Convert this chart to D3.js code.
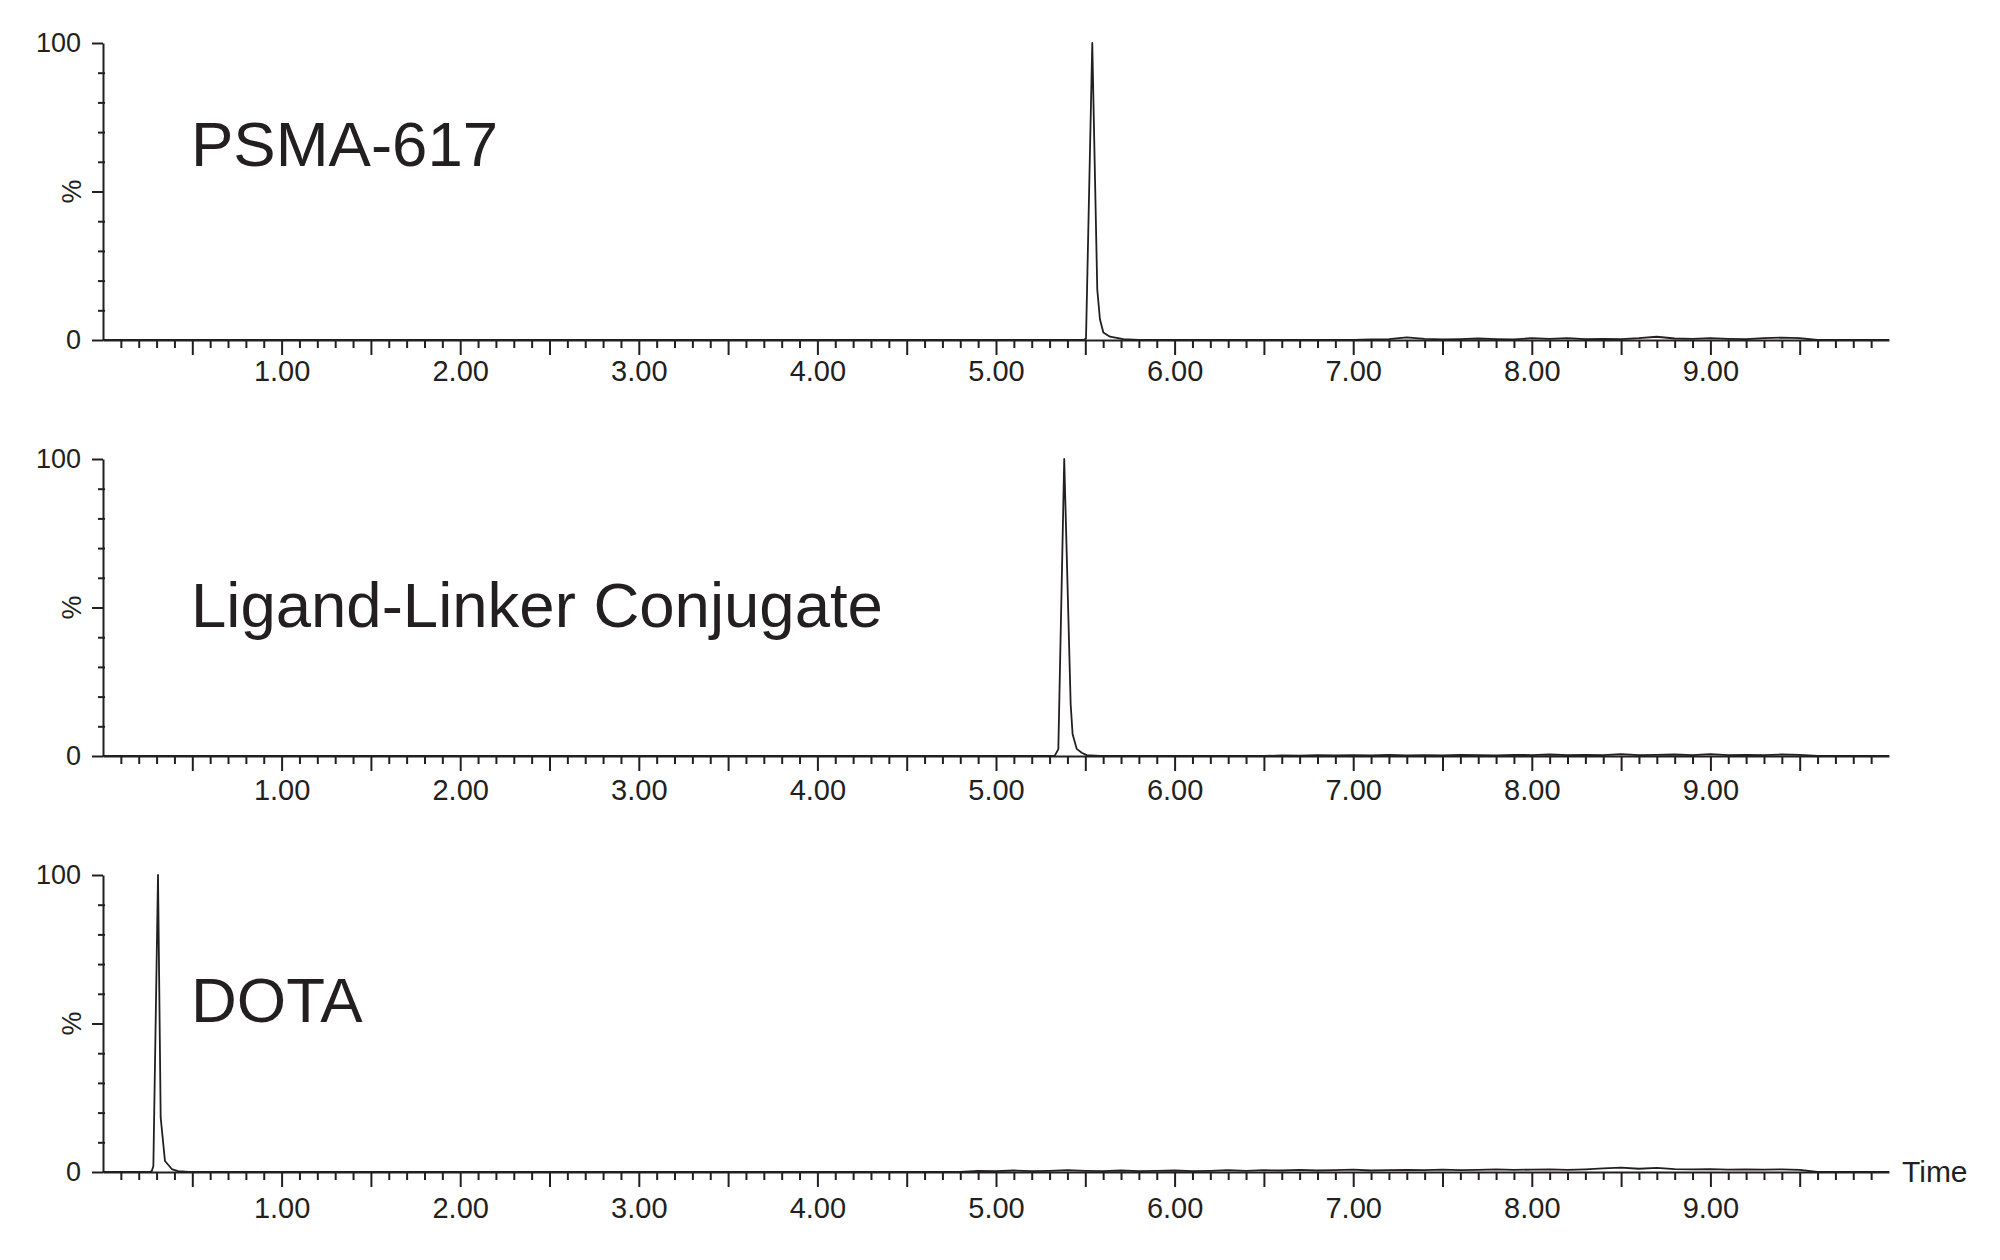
<!DOCTYPE html>
<html>
<head>
<meta charset="utf-8">
<script src="https://cdn.jsdelivr.net/npm/d3@7"></script>
<style>
  body { margin: 0; background: #fff; }
  svg { display: block; font-family: "Liberation Sans", Arial, sans-serif; }
</style>
</head>
<body>
<div id="chart"></div>
<script>
// sample names, one panel each
var sampleNames = [ 'PSMA-617', 'Ligand-Linker Conjugate', 'DOTA' ];

// peak points [time (min), intensity (%)]
var psmaPeak = [ [ 5.49, 0 ], [ 5.504, 0.5 ], [ 5.539, 100 ], [ 5.567, 17 ], [ 5.582, 7 ],
  [ 5.601, 2.5 ], [ 5.638, 1.1 ], [ 5.713, 0.3 ], [ 5.80, 0 ] ];
var ligandPeak = [ [ 5.32, 0 ], [ 5.330, 0.2 ], [ 5.349, 2.3 ], [ 5.382, 100 ], [ 5.418, 17.5 ],
  [ 5.429, 7.3 ], [ 5.452, 2.4 ], [ 5.480, 1.1 ], [ 5.508, 0.3 ], [ 5.58, 0 ] ];
var dotaPeak = [ [ 0.26, 0 ], [ 0.273, 0.3 ], [ 0.282, 2 ], [ 0.308, 100 ], [ 0.323, 18.3 ],
  [ 0.347, 3.7 ], [ 0.385, 1 ], [ 0.42, 0.3 ], [ 0.48, 0 ] ];

// baseline noise, one value every 0.1 min from the start time
var psmaNoiseStart = 7.0;
var psmaNoise = [ 0, 0.2, 0.3, 0.9, 0.4, 0.2, 0.3, 0.5, 0.3, 0.2, 0.6, 0.4, 0.6, 0.3,
  0.4, 0.3, 0.6, 1.1, 0.5, 0.4, 0.6, 0.4, 0.3, 0.6, 0.8, 0.6, 0 ];
var ligandNoiseStart = 6.5;
var ligandNoise = [ 0, 0.2, 0.1, 0.3, 0.2, 0.3, 0.2, 0.4, 0.2, 0.3, 0.2, 0.4, 0.3, 0.2,
  0.4, 0.3, 0.5, 0.3, 0.4, 0.3, 0.6, 0.3, 0.4, 0.5, 0.3, 0.6, 0.3, 0.4, 0.3, 0.5, 0.4, 0 ];
var dotaNoiseStart = 4.8;
var dotaNoise = [ 0, 0.4, 0.3, 0.5, 0.3, 0.4, 0.6, 0.4, 0.3, 0.5, 0.3, 0.4, 0.5, 0.3,
  0.4, 0.6, 0.4, 0.6, 0.5, 0.7, 0.5, 0.6, 0.8, 0.5, 0.6, 0.7, 0.6, 0.8, 0.6, 0.7, 0.9,
  0.7, 0.8, 0.9, 0.7, 0.9, 1.2, 1.5, 1.1, 1.4, 1.0, 0.9, 1.0, 0.8, 0.9, 0.8, 0.9, 0.7, 0 ];

var xMajorTicks = [ 0.5, 1, 1.5, 2, 2.5, 3, 3.5, 4, 4.5, 5, 5.5, 6, 6.5, 7, 7.5, 8, 8.5, 9, 9.5 ];
var xLabelTicks = [ 1, 2, 3, 4, 5, 6, 7, 8, 9 ];
var yMajorTicks = [ 0, 50, 100 ];
var yMinorTicks = [ 10, 20, 30, 40, 60, 70, 80, 90 ];
var yLabelTicks = [ 0, 100 ];

var width = 2000, height = 1260;
var ink = '#231f20';
var axisLeftX = 103, axisRightX = 1889;
var panelTops = [ 43, 459, 875 ];
var panelHeight = 297;
var labelBaselines = [ 166, 627, 1022 ];
var xLabelOffsets = [ 41, 44, 46 ];

function buildTrace( peak, noiseStart, noise ) {
  var pts = [ [ 0, 0 ] ].concat( peak );
  noise.forEach( function( v, i ) {
    pts.push( [ Math.round( ( noiseStart + i * 0.1 ) * 100 ) / 100, v ] );
  } );
  pts.push( [ 10, 0 ] );
  return pts.sort( function( a, b ) { return a[ 0 ] - b[ 0 ]; } );
}

var traces = [
  buildTrace( psmaPeak, psmaNoiseStart, psmaNoise ),
  buildTrace( ligandPeak, ligandNoiseStart, ligandNoise ),
  buildTrace( dotaPeak, dotaNoiseStart, dotaNoise )
];

var minorX = d3.range( 1, 100 ).map( function( i ) { return i / 10; } )
  .filter( function( t ) { return Math.abs( t * 2 - Math.round( t * 2 ) ) > 1e-6; } );

var svg = d3.select( '#chart' ).append( 'svg' )
  .attr( 'width', width )
  .attr( 'height', height );

svg.append( 'rect' ).attr( 'width', width ).attr( 'height', height ).attr( 'fill', '#fff' );

var x = d3.scaleLinear().domain( [ 0, 10 ] ).range( [ axisLeftX, axisRightX ] );

traces.forEach( function( trace, p ) {
  var top = panelTops[ p ];
  var zeroY = top + panelHeight;
  var y = d3.scaleLinear().domain( [ 0, 100 ] ).range( [ zeroY, top ] );
  var g = svg.append( 'g' );

  // x axis: minor ticks every 0.1, major every 0.5
  var xMinor = g.append( 'g' )
    .attr( 'transform', 'translate(0,' + zeroY + ')' )
    .call( d3.axisBottom( x ).tickValues( minorX ).tickSize( 8 ).tickFormat( '' ) );
  xMinor.select( '.domain' ).remove();

  var xMajor = g.append( 'g' )
    .attr( 'transform', 'translate(0,' + zeroY + ')' )
    .call( d3.axisBottom( x ).tickValues( xMajorTicks ).tickSize( 15 ).tickSizeOuter( 0 )
      .tickFormat( function( d ) { return xLabelTicks.indexOf( d ) >= 0 ? d3.format( '.2f' )( d ) : ''; } ) );
  xMajor.selectAll( 'text' )
    .attr( 'y', xLabelOffsets[ p ] ).attr( 'dy', null )
    .attr( 'font-size', '29px' )
    .attr( 'font-family', '"Liberation Sans", Arial, sans-serif' )
    .attr( 'fill', ink );

  // y axis
  var yMinor = g.append( 'g' )
    .attr( 'transform', 'translate(' + ( axisLeftX + 2 ) + ',0)' )
    .call( d3.axisLeft( y ).tickValues( yMinorTicks ).tickSize( 7 ).tickFormat( '' ) );
  yMinor.select( '.domain' ).remove();

  var yMajor = g.append( 'g' )
    .attr( 'transform', 'translate(' + axisLeftX + ',0)' )
    .call( d3.axisLeft( y ).tickValues( yMajorTicks ).tickSize( 11 ).tickSizeOuter( 0 ).tickPadding( 11 )
      .tickFormat( function( d ) { return yLabelTicks.indexOf( d ) >= 0 ? d : ''; } ) );
  yMajor.selectAll( 'text' )
    .attr( 'font-size', '27px' )
    .attr( 'font-family', '"Liberation Sans", Arial, sans-serif' )
    .attr( 'fill', ink );

  g.selectAll( '.domain, .tick line' )
    .attr( 'stroke', ink )
    .attr( 'stroke-width', 2 );

  g.append( 'text' )
    .attr( 'transform', 'translate(' + ( axisLeftX - 22 ) + ',' + y( 50 ) + ') rotate(-90)' )
    .attr( 'text-anchor', 'middle' )
    .attr( 'font-size', '27px' )
    .attr( 'fill', ink )
    .text( '%' );

  // trace
  var line = d3.line()
    .x( function( d ) { return x( d[ 0 ] ); } )
    .y( function( d ) { return y( d[ 1 ] ); } );

  g.append( 'path' )
    .datum( trace )
    .attr( 'd', line )
    .attr( 'fill', 'none' )
    .attr( 'stroke', ink )
    .attr( 'stroke-width', 1.8 )
    .attr( 'stroke-linejoin', 'round' );

  g.append( 'text' )
    .attr( 'x', 191 )
    .attr( 'y', labelBaselines[ p ] )
    .attr( 'font-size', '63.5px' )
    .attr( 'fill', ink )
    .text( sampleNames[ p ] );

  if ( p === traces.length - 1 ) {
    g.append( 'text' )
      .attr( 'x', 1902 )
      .attr( 'y', zeroY + 10 )
      .attr( 'font-size', '30px' )
      .attr( 'fill', ink )
      .text( 'Time' );
  }
} );
</script>
</body>
</html>
